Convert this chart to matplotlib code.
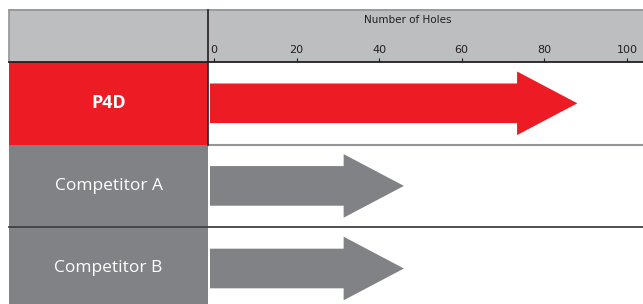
import matplotlib
matplotlib.use("Agg")
import matplotlib.pyplot as plt
from matplotlib.patches import Rectangle
from matplotlib.lines import Line2D

# ---- data ----
categories = ["P4D", "Competitor A", "Competitor B"]
holes = [88, 46, 46]
tick_values = [0, 20, 40, 60, 80, 100]
tick_labels = ["0", "20", "40", "60", "80", "100"]
axis_title = "Number of Holes"

# ---- styles ----
RED = "#ed1c24"
GRAY = "#808285"
HEADER = "#bcbec0"
DARK = "#231f20"
colors = [RED, GRAY, GRAY]
bold = [True, False, False]

W, H = 643, 304
fig = plt.figure(figsize=(W / 100, H / 100), dpi=100)

def fx(px):
    return px / W

def fy(py):
    return 1 - py / H

narrow = ["Liberation Sans Narrow", "DejaVu Sans"]

# header background (drawn beneath the axes)
fig.add_artist(Rectangle((fx(9), fy(62)), fx(643) - fx(9), fy(9.5) - fy(62),
                         transform=fig.transFigure, facecolor=HEADER,
                         edgecolor="none", zorder=-5))
fig.add_artist(Line2D([fx(8.5), fx(643)], [fy(9.5), fy(9.5)], color="#939598", lw=1.2, zorder=-4))
fig.add_artist(Line2D([fx(8.5), fx(8.5)], [fy(9.5), fy(62)], color="#939598", lw=1.2, zorder=-4))

row_h = 82.6
top = 62.0
y_bottom = -0.5 + (H - top) / row_h

# left label column axes
axl = fig.add_axes([fx(9), 0, fx(208.3) - fx(9), fy(top)])
axl.set_xlim(0, 1)
axl.set_ylim(y_bottom, -0.5)
axl.axis("off")
for i, (cat, c, b) in enumerate(zip(categories, colors, bold)):
    axl.axhspan(i - 0.5, i + 0.5, color=c, lw=0)
    axl.text(0.5, i, cat, color="white", ha="center", va="center",
             fontsize=13 if b else 12.5, fontweight="bold" if b else "normal",
             family=["Open Sans", "DejaVu Sans"])

# main axes
ax = fig.add_axes([fx(208.3), 0, 1 - fx(208.3), fy(top)])
ax.patch.set_alpha(0)
ax.set_xlim(-1.38, 103.9)
ax.set_ylim(y_bottom, -0.5)
for s in ax.spines.values():
    s.set_visible(False)
ax.set_yticks([])
ax.xaxis.tick_top()
ax.set_xticks(tick_values)
ax.set_xticklabels(tick_labels, family=narrow, fontsize=8, color=DARK)
ax.tick_params(axis="x", direction="out", length=3, width=0.8, color=DARK, pad=2)

x0 = -0.97
for i, (v, c) in enumerate(zip(holes, colors)):
    ax.arrow(x0, i, v - x0, 0, width=0.48, head_width=0.77, head_length=14.6,
             length_includes_head=True, color=c, lw=0)

# row separators
ax.axhline(0.5, color="#939598", lw=1.5)
fig.add_artist(Line2D([fx(9), fx(643)], [fy(62 + 2 * row_h), fy(62 + 2 * row_h)],
                      color="#414042", lw=1.3))
# header bottom line
fig.add_artist(Line2D([fx(9), fx(643)], [fy(62), fy(62)], color=DARK, lw=1.3))
# vertical divider through header and first row
fig.add_artist(Line2D([fx(208.3), fx(208.3)], [fy(9.5), fy(62 + row_h)], color=DARK, lw=1.2))

fig.text(fx(408), fy(20), axis_title, ha="center", va="center", fontsize=7.5,
         family=narrow, color=DARK)

fig.savefig("out.png", dpi=100)
